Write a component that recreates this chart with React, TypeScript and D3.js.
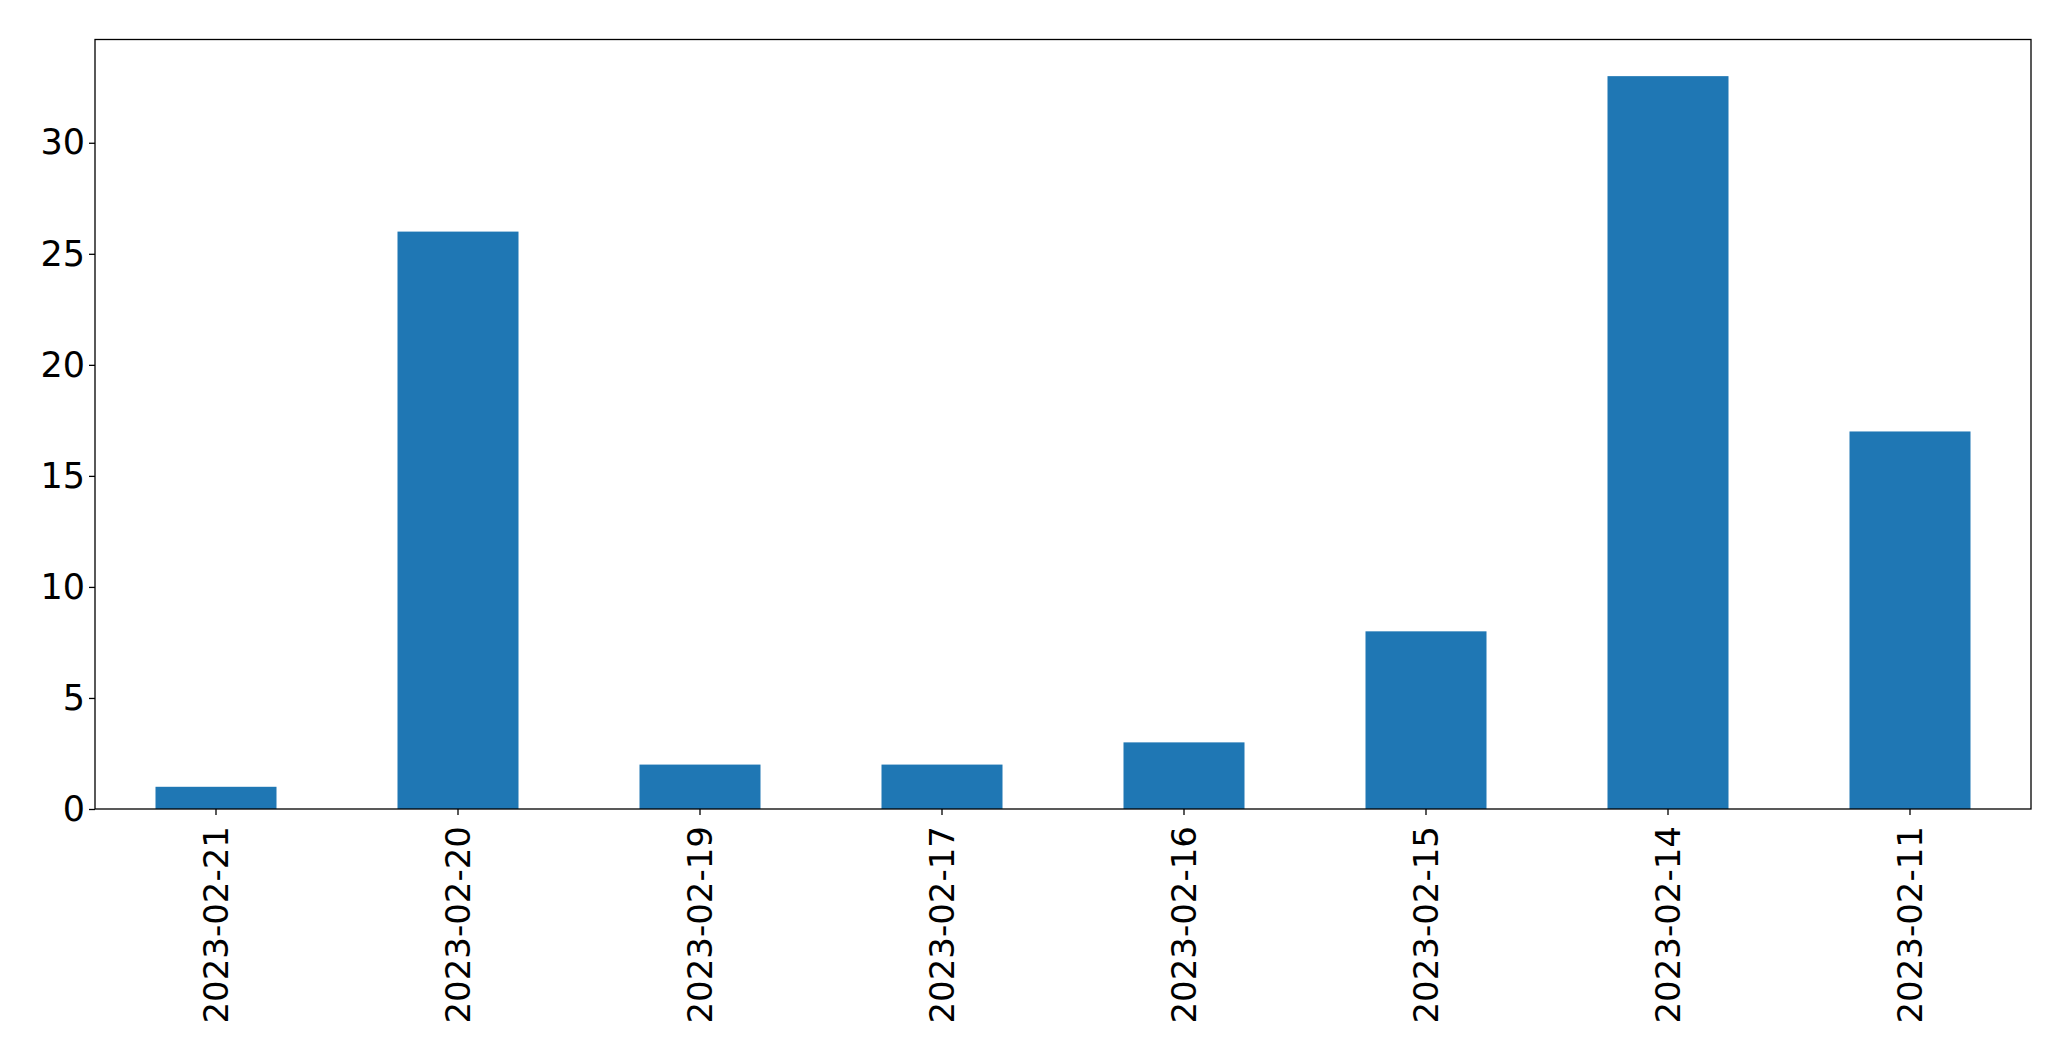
import { useEffect, useRef } from "react";
import * as d3 from "d3";

const dates = [
  "2023-02-21",
  "2023-02-20",
  "2023-02-19",
  "2023-02-17",
  "2023-02-16",
  "2023-02-15",
  "2023-02-14",
  "2023-02-11",
];
const counts = [1, 26, 2, 2, 3, 8, 33, 17];
const yTicks = [0, 5, 10, 15, 20, 25, 30];

const App = () => {
  const svgRef = useRef<SVGSVGElement | null>(null);

  useEffect(() => {
    const width = 2071;
    const height = 1061;
    const margin = { top: 39.5, right: 40, bottom: 252, left: 95 };
    const font = "'DejaVu Sans', sans-serif";

    const svg = d3.select(svgRef.current).attr("width", width).attr("height", height);
    svg.selectAll("*").remove();
    svg.append("rect").attr("width", width).attr("height", height).attr("fill", "white");

    const rows = dates.map((d, i) => ({ date: d, value: counts[i] }));

    // matplotlib style: width 0.5 bars, xlim -0.5..n-0.5
    const x = d3
      .scaleBand()
      .domain(dates)
      .range([margin.left, width - margin.right])
      .paddingInner(0.5)
      .paddingOuter(0.25);

    const maxV = d3.max(counts) ?? 1;
    const y = d3
      .scaleLinear()
      .domain([0, maxV * 1.05])
      .range([height - margin.bottom, margin.top]);

    // Bars
    svg
      .append("g")
      .selectAll("rect")
      .data(rows)
      .join("rect")
      .attr("x", (d) => x(d.date) ?? 0)
      .attr("y", (d) => y(d.value))
      .attr("width", x.bandwidth())
      .attr("height", (d) => y(0) - y(d.value))
      .attr("fill", "#1f77b4");

    // Y axis
    const yAxis = svg
      .append("g")
      .attr("transform", `translate(${margin.left},0)`)
      .call(d3.axisLeft(y).tickValues(yTicks).tickSize(6).tickPadding(4).tickFormat(d3.format("d")));
    yAxis.select(".domain").remove();
    yAxis.selectAll("line").attr("stroke", "black").attr("stroke-width", 1.3);
    yAxis
      .selectAll("text")
      .attr("font-family", font)
      .attr("font-size", 35)
      .attr("fill", "black");
    yAxis.attr("font-family", null).attr("font-size", null);

    // X axis
    const xAxis = svg
      .append("g")
      .attr("transform", `translate(0,${height - margin.bottom})`)
      .call(d3.axisBottom(x).tickSize(6).tickPadding(12));
    xAxis.select(".domain").remove();
    xAxis.selectAll("line").attr("stroke", "black").attr("stroke-width", 1.3);
    xAxis
      .selectAll("text")
      .attr("font-family", font)
      .attr("font-size", 34)
      .attr("fill", "black")
      .attr("text-anchor", "end")
      .attr("y", 0)
      .attr("dy", "0.35em")
      .attr("transform", "translate(0,17) rotate(-90)");
    xAxis.attr("font-family", null).attr("font-size", null);

    // Frame
    svg
      .append("rect")
      .attr("x", margin.left)
      .attr("y", margin.top)
      .attr("width", width - margin.left - margin.right)
      .attr("height", height - margin.top - margin.bottom)
      .attr("fill", "none")
      .attr("stroke", "black")
      .attr("stroke-width", 1.3);
  }, []);

  return (
    <div style={{ position: "absolute", left: 0, top: 0 }}>
      <svg ref={svgRef} style={{ display: "block" }} />
    </div>
  );
};

export default App;
